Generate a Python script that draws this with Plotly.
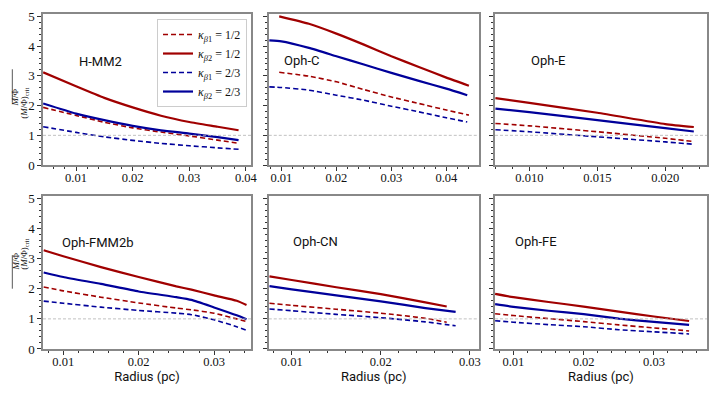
import plotly.graph_objects as go
from plotly.subplots import make_subplots

# ---------------- data ----------------
panel_names = ["H-MM2", "Oph-C", "Oph-E", "Oph-FMM2b", "Oph-CN", "Oph-FE"]
legend_labels = ["<i>κ</i><sub><i>β</i>1</sub> = 1/2", "<i>κ</i><sub><i>β</i>2</sub> = 1/2",
                 "<i>κ</i><sub><i>β</i>1</sub> = 2/3", "<i>κ</i><sub><i>β</i>2</sub> = 2/3"]

# H-MM2
hmm2_r = [0.0042, 0.010, 0.015, 0.020, 0.025, 0.030, 0.035, 0.0387]
hmm2_b1_half = [1.94, 1.67, 1.44, 1.25, 1.11, 0.98, 0.84, 0.73]
hmm2_b2_half = [3.12, 2.65, 2.26, 1.94, 1.66, 1.45, 1.29, 1.17]
hmm2_b1_twothird = [1.29, 1.10, 0.95, 0.83, 0.73, 0.65, 0.58, 0.53]
hmm2_b2_twothird = [2.07, 1.73, 1.51, 1.32, 1.17, 1.06, 0.94, 0.84]

# Oph-C
ophc_r_red = [0.0096, 0.015, 0.020, 0.025, 0.030, 0.035, 0.040, 0.0441]
ophc_r_blue = [0.0078, 0.010, 0.015, 0.020, 0.025, 0.030, 0.035, 0.040, 0.0438]
ophc_b1_half = [3.12, 2.99, 2.80, 2.54, 2.29, 2.07, 1.85, 1.68]
ophc_b2_half = [5.00, 4.75, 4.42, 4.05, 3.66, 3.30, 2.94, 2.67]
ophc_b1_twothird = [2.63, 2.61, 2.52, 2.35, 2.18, 1.98, 1.79, 1.59, 1.45]
ophc_b2_twothird = [4.19, 4.16, 3.94, 3.66, 3.38, 3.10, 2.83, 2.57, 2.35]

# Oph-E
ophe_r = [0.0075, 0.010, 0.015, 0.020, 0.0221]
ophe_b1_half = [1.40, 1.32, 1.12, 0.90, 0.79]
ophe_b2_half = [2.25, 2.09, 1.76, 1.38, 1.28]
ophe_b1_twothird = [1.19, 1.12, 0.95, 0.78, 0.70]
ophe_b2_twothird = [1.90, 1.78, 1.51, 1.24, 1.13]

# Oph-FMM2b
fmm_r = [0.0074, 0.010, 0.015, 0.020, 0.025, 0.027, 0.030, 0.033, 0.0343]
fmm_b1_half = [2.06, 1.93, 1.72, 1.53, 1.36, 1.30, 1.19, 1.00, 0.91]
fmm_b2_half = [3.28, 3.08, 2.72, 2.39, 2.08, 1.97, 1.78, 1.60, 1.46]
fmm_b1_twothird = [1.59, 1.52, 1.39, 1.28, 1.19, 1.14, 0.97, 0.74, 0.62]
fmm_b2_twothird = [2.54, 2.39, 2.16, 1.91, 1.72, 1.63, 1.38, 1.12, 0.99]

# Oph-CN
ophcn_r_red = [0.0075, 0.010, 0.015, 0.020, 0.025, 0.0274]
ophcn_r_blue = [0.0075, 0.010, 0.015, 0.020, 0.025, 0.0284]
ophcn_b1_half = [1.52, 1.45, 1.32, 1.19, 1.02, 0.89]
ophcn_b2_half = [2.41, 2.29, 2.05, 1.82, 1.55, 1.41]
ophcn_b1_twothird = [1.33, 1.27, 1.15, 1.04, 0.90, 0.77]
ophcn_b2_twothird = [2.09, 1.98, 1.78, 1.58, 1.36, 1.23]

# Oph-FE
ophfe_r = [0.0074, 0.010, 0.015, 0.020, 0.025, 0.030, 0.0350]
ophfe_b1_half = [1.17, 1.11, 1.01, 0.91, 0.80, 0.70, 0.60]
ophfe_b2_half = [1.83, 1.72, 1.56, 1.41, 1.24, 1.08, 0.93]
ophfe_b1_twothird = [0.94, 0.89, 0.81, 0.74, 0.64, 0.57, 0.50]
ophfe_b2_twothird = [1.49, 1.40, 1.27, 1.16, 1.01, 0.90, 0.80]

x_ranges = [[0.00417, 0.0409], [0.0077, 0.0459], [0.00747, 0.02307],
            [0.00731, 0.0349], [0.00742, 0.0310], [0.00738, 0.03755]]
x_dticks = [0.01, 0.01, 0.005, 0.01, 0.01, 0.01]
x_formats = [".2f", ".2f", ".3f", ".2f", ".2f", ".2f"]

panels = [
    (hmm2_r, hmm2_r, hmm2_b1_half, hmm2_b2_half, hmm2_b1_twothird, hmm2_b2_twothird),
    (ophc_r_red, ophc_r_blue, ophc_b1_half, ophc_b2_half, ophc_b1_twothird, ophc_b2_twothird),
    (ophe_r, ophe_r, ophe_b1_half, ophe_b2_half, ophe_b1_twothird, ophe_b2_twothird),
    (fmm_r, fmm_r, fmm_b1_half, fmm_b2_half, fmm_b1_twothird, fmm_b2_twothird),
    (ophcn_r_red, ophcn_r_blue, ophcn_b1_half, ophcn_b2_half, ophcn_b1_twothird, ophcn_b2_twothird),
    (ophfe_r, ophfe_r, ophfe_b1_half, ophfe_b2_half, ophfe_b1_twothird, ophfe_b2_twothird),
]

RED = "#a00000"
BLUE = "#00009a"
SERIF = "Liberation Serif"
SANS = "Roboto"

fig = make_subplots(rows=2, cols=3)

col_domains = [[0.0, 0.3133], [0.3400, 0.6563], [0.6807, 1.0]]
row_domains = [[0.549, 1.0], [0.0, 0.4567]]

for i, (r_red, r_blue, b1h, b2h, b1t, b2t) in enumerate(panels):
    row, col = i // 3 + 1, i % 3 + 1
    styles = [
        (r_red, b1h, RED, "5px,3px", 1.6),
        (r_red, b2h, RED, "solid", 2.2),
        (r_blue, b1t, BLUE, "5px,3px", 1.6),
        (r_blue, b2t, BLUE, "solid", 2.2),
    ]
    for k, (xs, ys, c, d, w) in enumerate(styles):
        fig.add_trace(go.Scatter(x=xs, y=ys, mode="lines", name=legend_labels[k],
                                 line=dict(color=c, dash=d, width=w, shape="spline", smoothing=0.5),
                                 showlegend=(i == 0)), row=row, col=col)
    fig.add_hline(y=1, line=dict(color="#b0b0b0", width=0.8, dash="3px,2px"), row=row, col=col)

    xa = "xaxis" if i == 0 else f"xaxis{i+1}"
    ya = "yaxis" if i == 0 else f"yaxis{i+1}"
    fig.layout[xa].update(
        domain=col_domains[col - 1], range=x_ranges[i], dtick=x_dticks[i], tick0=0,
        tickformat=x_formats[i], ticks="outside", ticklen=4, tickwidth=1, tickcolor="#333",
        minor=dict(ticks="outside", ticklen=2, dtick=x_dticks[i] / (4 if x_dticks[i] == 0.005 else 5),
                   tickcolor="#333"),
        showgrid=False, zeroline=False, showline=True, linecolor="#888", linewidth=1.5, mirror=True,
        tickfont=dict(family=SERIF, size=12.5, color="#111"), automargin=False,
        ticklabelstandoff=-4,
    )
    fig.layout[ya].update(
        domain=row_domains[row - 1], range=[0, 5.08], dtick=1, tick0=0,
        ticks="outside", ticklen=4, tickwidth=1, tickcolor="#333",
        minor=dict(ticks="outside", ticklen=2, dtick=0.2, tickcolor="#333"),
        showgrid=False, zeroline=False, showline=True, linecolor="#888", linewidth=1.5, mirror=True,
        showticklabels=(col == 1), tickfont=dict(family=SERIF, size=13, color="#111"), automargin=False,
    )
    if row == 2:
        fig.layout[xa].update(title=dict(text="Radius (pc)", standoff=2,
                                         font=dict(family=SANS, size=13, color="#111")))

# panel labels
label_pos = [(0.163, 0.684), (0.065, 0.69), (0.162, 0.69), (0.083, 0.693), (0.107, 0.70), (0.085, 0.70)]
for i, name in enumerate(panel_names):
    sfx = "" if i == 0 else str(i + 1)
    fig.add_annotation(text=name, xref=f"x{sfx} domain", yref=f"y{sfx} domain",
                       x=label_pos[i][0], y=label_pos[i][1], xanchor="left", yanchor="middle",
                       showarrow=False, font=dict(family=SANS, size=13, color="#111"))

# y-axis label as a rotated fraction (M/Φ) / (M/Φ)crit for each row
for ycen in [0.785, 0.23]:
    fig.add_annotation(text="<i>M</i>/Φ", xref="paper", yref="paper", x=-0.0520, y=ycen,
                       textangle=-90, showarrow=False, font=dict(family=SERIF, size=9, color="#111"))
    fig.add_annotation(text="(<i>M</i>/Φ)<sub>crit</sub>", xref="paper", yref="paper", x=-0.0395, y=ycen,
                       textangle=-90, showarrow=False, font=dict(family=SERIF, size=9, color="#111"))
    fig.add_shape(type="line", xref="paper", yref="paper", x0=-0.0462, x1=-0.0462,
                  y0=ycen - 0.05, y1=ycen + 0.05, line=dict(color="#111", width=0.7))

fig.update_layout(
    width=718, height=393,
    margin=dict(l=43, r=11, t=14, b=44),
    plot_bgcolor="white", paper_bgcolor="white",
    legend=dict(x=0.1717, y=0.985, xanchor="left", yanchor="top",
                bgcolor="white", bordercolor="#cccccc", borderwidth=1,
                font=dict(family=SERIF, size=12, color="#111"), tracegroupgap=0),
    showlegend=True,
)

fig.write_html("out.html", config={"displayModeBar": False},
               post_script="document.body.style.margin='0';document.body.style.overflow='hidden';")
